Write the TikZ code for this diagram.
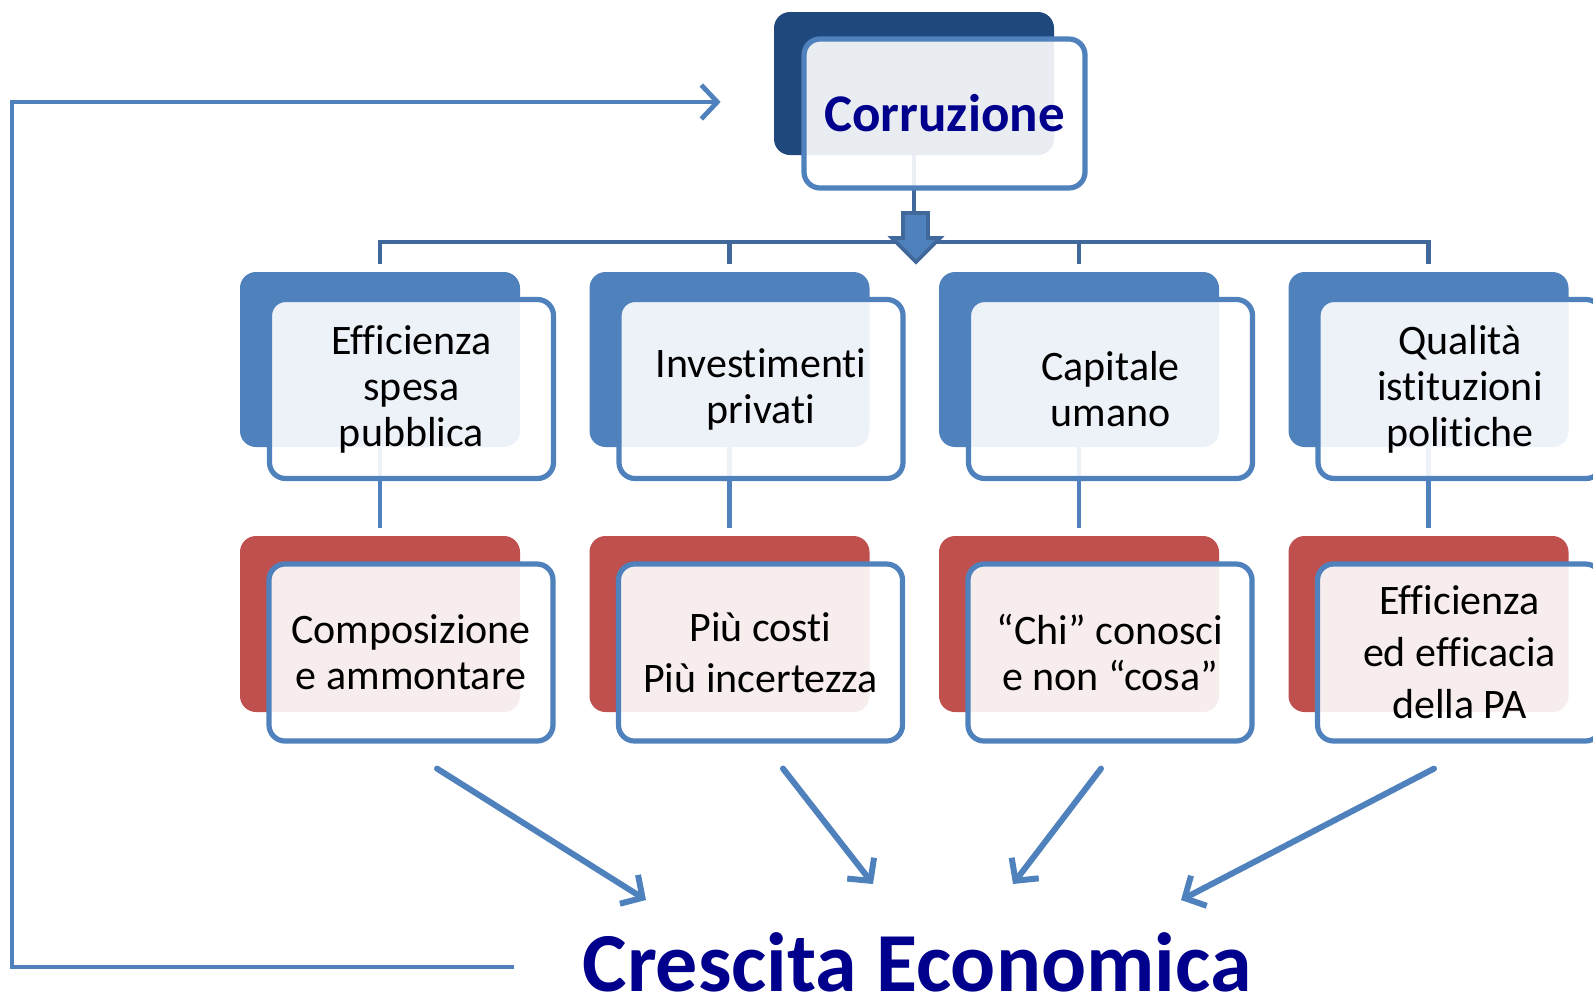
\documentclass[tikz,border=0pt]{standalone}
\usepackage{fontspec}
\setmainfont{Carlito}[Ligatures={TeX,NoCommon}]
\usetikzlibrary{arrows.meta, positioning, calc}
\definecolor{accblue}{RGB}{79,129,189}
\definecolor{darkhead}{RGB}{31,73,125}
\definecolor{accred}{RGB}{192,80,77}
\definecolor{busblue}{RGB}{65,104,155}
\definecolor{navytext}{RGB}{0,0,140}
\tikzset{
  backbox/.style={
    rectangle, rounded corners=8pt, minimum width=140pt, minimum height=87.5pt, inner sep=0pt
  },
  causeback/.style={backbox, fill=accblue},
  effectback/.style={backbox, fill=accred, minimum height=88pt},
  headback/.style={backbox, fill=darkhead, minimum height=71.5pt},
  frontbox/.style={
    rectangle, rounded corners=8pt, draw=accblue, line width=2.6pt, fill=white, fill opacity=0.9,
    text opacity=1, minimum width=142pt, minimum height=89.5pt, inner sep=0pt,
    align=center, font=\fontsize{21}{23}\selectfont
  },
  effectbox/.style={frontbox, minimum height=88.5pt},
  link/.style={draw=accblue, line width=2.4pt},
  busline/.style={draw=busblue, line width=2.2pt},
  flow/.style={draw=accblue, line width=3pt, line cap=round, -{Straight Barb[length=8pt,width=17pt]}}
}

\begin{document}
\begin{tikzpicture}[x=0.5pt, y=-0.5pt]
    \clip (0,0) rectangle (1593,1002);
    % back layer
    \node[headback] (hb) at (914,83.5) {};
    \node[causeback] (cb1) at (380,359.5) {};
    \node[causeback] (cb2) at (729.5,359.5) {};
    \node[causeback] (cb3) at (1079,359.5) {};
    \node[causeback] (cb4) at (1428.5,359.5) {};
    \node[effectback] (eb1) at (380,624) {};
    \node[effectback] (eb2) at (729.5,624) {};
    \node[effectback] (eb3) at (1079,624) {};
    \node[effectback] (eb4) at (1428.5,624) {};
    % hierarchy lines
    \coordinate (bus) at (914,242);
    \draw[busline] (hb.south) -- (hb.south |- bus);
    \draw[busline] ([yshift=4pt]cb1.north) -- (cb1.north |- bus) -- (cb4.north |- bus) -- ([yshift=4pt]cb4.north);
    \draw[busline] (cb2.north |- bus) -- ([yshift=4pt]cb2.north);
    \draw[busline] (cb3.north |- bus) -- ([yshift=4pt]cb3.north);
    \draw[link] (cb1.south) -- ([yshift=4pt]eb1.north);
    \draw[link] (cb2.south) -- ([yshift=4pt]eb2.north);
    \draw[link] (cb3.south) -- ([yshift=4pt]eb3.north);
    \draw[link] (cb4.south) -- ([yshift=4pt]eb4.north);
    % block arrow
    \filldraw[fill=accblue, draw=busblue, line width=1.8pt, line join=miter]
      (903,213) -- (928,213) -- (928,238) -- (940,238) -- (916,262) -- (892,238) -- (903,238) -- cycle;
    % front layer
    \node[frontbox, minimum width=140.5pt, minimum height=74.5pt, text=navytext,
      font=\bfseries\fontsize{26.5}{30}\selectfont] (corr) at (944.5,113.5) {Corruzione};
    \node[frontbox] (c1) at (411.5,389) {Efficienza\\spesa\\pubblica};
    \node[frontbox] (c2) at (761,389) {Investimenti\\privati};
    \node[frontbox] (c3) at (1110.5,389) {Capitale\\umano};
    \node[frontbox] (c4) at (1460,389) {Qualità\\istituzioni\\politiche};
    \node[effectbox] (e1) at (411,652.5) {Composizione\\e ammontare};
    \node[effectbox] (e2) at (760.5,652.5) {Più costi\\[2.5pt]Più incertezza};
    \node[effectbox] (e3) at (1110,652.5) {“Chi” conosci\\e non “cosa”};
    \node[effectbox] (e4) at (1459.5,652.5) {Efficienza\\[3pt]ed efficacia\\[3pt]della PA};
    % result
    \node[inner sep=0pt, text=navytext, font=\bfseries\fontsize{42}{46}\selectfont] (cresc) at (917,962) {Crescita Economica};
    \coordinate (in1) at (646,900);
    \coordinate (in2) at (873,884);
    \coordinate (in3) at (1013,884);
    \coordinate (in4) at (1181,900);
    \draw[flow] (e1.south) ++(26,25) -- (in1);
    \draw[flow] (e2.south) ++(22.5,25) -- (in2);
    \draw[flow] (e3.south) ++(-9,25) -- (in3);
    \draw[flow] (e4.south) ++(-25.5,25) -- (in4);
    % feedback loop
    \coordinate (loopcorner) at (12,102);
    \draw[flow, line width=2.4pt, line cap=butt] ($(cresc.west)+(-68,5)$) -| (loopcorner) -- ($(hb.west |- loopcorner)+(-53,0)$);
\end{tikzpicture}
\end{document}
